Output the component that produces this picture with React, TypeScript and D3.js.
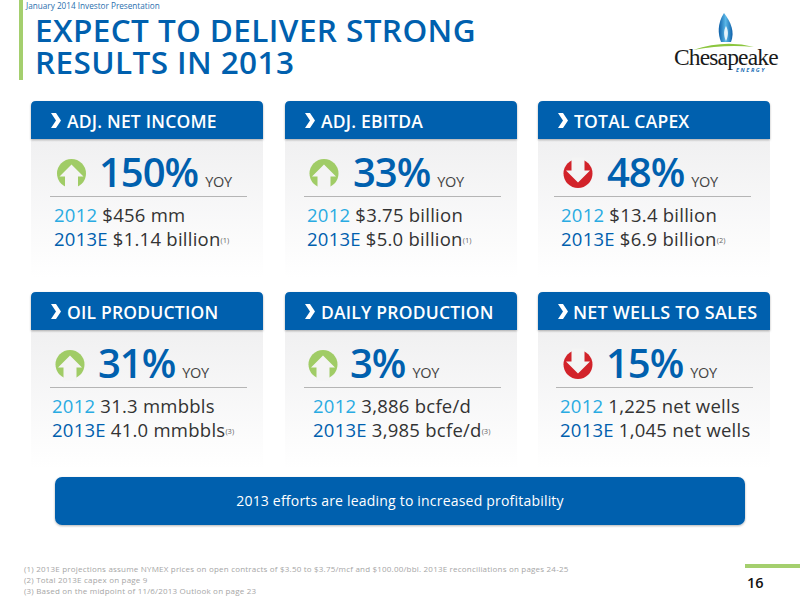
import React, { useEffect, useRef } from 'react';
import * as d3 from 'd3';

const titles = ['ADJ. NET INCOME', 'ADJ. EBITDA', 'TOTAL CAPEX', 'OIL PRODUCTION', 'DAILY PRODUCTION', 'NET WELLS TO SALES'];
const changes = [150, 33, 48, 31, 3, 15];
const directions = ['up', 'up', 'down', 'up', 'up', 'down'];
const values2012 = ['$456 mm', '$3.75 billion', '$13.4 billion', '31.3 mmbbls', '3,886 bcfe/d', '1,225 net wells'];
const values2013 = ['$1.14 billion', '$5.0 billion', '$6.9 billion', '41.0 mmbbls', '3,985 bcfe/d', '1,045 net wells'];
const noteRefs = ['(1)', '(1)', '(2)', '(3)', '(3)', ''];
const footnotes = [
  '(1)  2013E projections assume NYMEX prices on open contracts of $3.50 to $3.75/mcf and $100.00/bbl. 2013E reconciliations on pages 24-25',
  '(2)  Total 2013E capex on page 9',
  '(3)  Based on the midpoint of 11/6/2013 Outlook on page 23',
];

// offsets inside each card, these differ a bit on the slide
const iconX = [40.5, 39, 40, 39, 38, 40];
const bigX = [68, 68, 69, 67, 65, 68];
const lineX = [23, 22, 23, 21, 28, 22];
const ruleX = [19, 19, 16, 19, 19, 18];

const BLUE = '#0060ae';
const FONT = '"Open Sans", "Noto Sans", sans-serif';

const App: React.FC = () => {
  const ref = useRef<SVGSVGElement>(null);

  useEffect(() => {
    if (!ref.current) return;
    const svg = d3.select(ref.current);
    svg.selectAll('*').remove();

    const defs = svg.append('defs');
    const grad = defs.append('linearGradient').attr('id', 'card-bg').attr('x1', 0).attr('x2', 0).attr('y1', 0).attr('y2', 1);
    grad.append('stop').attr('offset', '0%').attr('stop-color', '#f0f0f1');
    grad.append('stop').attr('offset', '100%').attr('stop-color', '#ffffff');
    const shadow = defs.append('filter').attr('id', 'soft').attr('x', '-5%').attr('y', '-10%').attr('width', '110%').attr('height', '125%');
    shadow.append('feDropShadow').attr('dx', 0).attr('dy', 1).attr('stdDeviation', 1).attr('flood-color', '#000').attr('flood-opacity', 0.3);
    const flame = defs.append('linearGradient').attr('id', 'flame').attr('x1', 0).attr('x2', 1).attr('y1', 0).attr('y2', 0);
    flame.append('stop').attr('offset', '0%').attr('stop-color', '#0d5fa8');
    flame.append('stop').attr('offset', '50%').attr('stop-color', '#5bb8e8');
    flame.append('stop').attr('offset', '100%').attr('stop-color', '#0d5fa8');

    svg.append('rect').attr('width', 800).attr('height', 600).attr('fill', '#fff');

    // header
    svg.append('rect').attr('x', 19).attr('y', 0).attr('width', 4).attr('height', 80).attr('fill', '#a4cf6e');
    svg.append('text').attr('x', 26).attr('y', 8.5).attr('font-size', 8.2).attr('fill', '#2a6fae').attr('font-family', FONT).text('January 2014 Investor Presentation');
    ['EXPECT TO DELIVER STRONG', 'RESULTS IN 2013'].forEach((t, i) => {
      svg.append('text').attr('x', 35).attr('y', 42 + i * 32).attr('font-size', 31.5).attr('font-weight', 600).attr('letter-spacing', 0.4)
        .attr('fill', BLUE).attr('font-family', FONT).text(t);
    });

    // logo
    const logo = svg.append('g');
    logo.append('path').attr('d', 'M724 13 C717 24 718 34 721 42 L731 42 C735 32 731 22 724 13 Z').attr('fill', 'url(#flame)');
    logo.append('path').attr('d', 'M726 26 C723 31 724 37 726 41 C728 37 729 31 726 26 Z').attr('fill', '#e6f4fb');
    logo.append('path').attr('d', 'M693 50 Q725 39 754 47 Q725 44 693 50 Z').attr('fill', '#8cc63f');
    logo.append('text').attr('x', 674).attr('y', 65).attr('font-size', 23.5).attr('letter-spacing', -0.85)
      .attr('font-family', '"Liberation Serif", serif').attr('fill', '#1a1a1a').text('Chesapeake');
    logo.append('text').attr('x', 736).attr('y', 72).attr('font-size', 5.5).attr('font-weight', 700).attr('font-style', 'italic').attr('letter-spacing', 1.6)
      .attr('font-family', FONT).attr('fill', '#1b6fb5').text('ENERGY');

    // card grid
    const colX = d3.scaleOrdinal<number, number>().domain([0, 1, 2]).range([31, 285, 538]);
    const rowY = d3.scaleOrdinal<number, number>().domain([0, 1]).range([101, 292]);
    const cardW = 232;

    titles.forEach((title, i) => {
      const x = colX(i % 3);
      const y = rowY(Math.floor(i / 3));
      const g = svg.append('g').attr('transform', `translate(${x},${y})`);

      g.append('rect').attr('x', 0).attr('y', 37).attr('width', cardW).attr('height', 140).attr('fill', 'url(#card-bg)');
      g.append('path')
        .attr('d', `M0 38 V5 Q0 0 5 0 H${cardW - 5} Q${cardW} 0 ${cardW} 5 V38 Z`)
        .attr('fill', BLUE).attr('filter', 'url(#soft)');
      g.append('path').attr('d', 'M20 12 L25 12 L30 19.5 L25 27 L20 27 L25 19.5 Z').attr('fill', '#fff');
      g.append('text').attr('x', i === 5 ? 35 : 36).attr('y', 26.5).attr('font-size', i === 5 ? 18 : 17.5).attr('font-weight', 600)
        .attr('letter-spacing', 0.2).attr('fill', '#fff').attr('font-family', FONT).text(title);

      // arrow badge
      const cx = iconX[i];
      const up = directions[i] === 'up';
      const badge = g.append('g').attr('transform', `translate(${cx},72.5)${up ? '' : ' rotate(180)'}`);
      badge.append('circle').attr('r', 14.5).attr('fill', up ? '#a0cc66' : '#d2232a');
      badge.append('path').attr('d', 'M0 -9 L12 3 L6.5 3 L6.5 16 L-6.5 16 L-6.5 3 L-12 3 Z').attr('fill', '#f4f4f4');

      // big number
      const big = g.append('text').attr('x', bigX[i]).attr('y', 86).attr('font-family', FONT).attr('fill', BLUE);
      big.append('tspan').attr('font-size', 40).attr('font-weight', 600).attr('letter-spacing', -1).text(`${changes[i]}%`);
      big.append('tspan').attr('dx', 7).attr('font-size', 14.5).attr('letter-spacing', -0.3).attr('fill', '#444').text('YOY');

      g.append('line').attr('x1', ruleX[i]).attr('x2', ruleX[i] + 197).attr('y1', 95.5).attr('y2', 95.5).attr('stroke', '#b5b5b5').attr('stroke-width', 1);

      const l1 = g.append('text').attr('x', lineX[i]).attr('y', 121).attr('font-size', 18.5).attr('letter-spacing', 0.25).attr('font-family', FONT).attr('fill', '#333');
      l1.append('tspan').attr('fill', '#29abe2').text('2012');
      l1.append('tspan').attr('dx', 5).text(values2012[i]);

      const l2 = g.append('text').attr('x', lineX[i]).attr('y', 145).attr('font-size', 18.5).attr('letter-spacing', 0.25).attr('font-family', FONT).attr('fill', '#333');
      l2.append('tspan').attr('fill', BLUE).text('2013E');
      l2.append('tspan').attr('dx', 5).text(values2013[i]);
      if (noteRefs[i]) l2.append('tspan').attr('font-size', 7.5).attr('letter-spacing', 0).attr('dy', -3).attr('fill', '#666').text(noteRefs[i]);
    });

    // banner
    svg.append('rect').attr('x', 55).attr('y', 477).attr('width', 690).attr('height', 48).attr('rx', 7)
      .attr('fill', BLUE).attr('filter', 'url(#soft)');
    svg.append('text').attr('x', 400).attr('y', 506).attr('text-anchor', 'middle').attr('font-size', 14).attr('font-weight', 500).attr('letter-spacing', 0.2)
      .attr('fill', '#fff').attr('font-family', FONT).text('2013 efforts are leading to increased profitability');

    // footer
    footnotes.forEach((t, i) => {
      svg.append('text').attr('x', 24).attr('y', 571.5 + i * 11).attr('font-size', 8).attr('letter-spacing', 0.2).attr('fill', '#a6a6a6').attr('font-family', FONT).text(t);
    });
    svg.append('rect').attr('x', 745).attr('y', 564).attr('width', 55).attr('height', 4).attr('fill', '#a4cf6e');
    svg.append('text').attr('x', 747).attr('y', 588).attr('font-size', 14.5).attr('font-weight', 600).attr('fill', '#111').attr('font-family', FONT).text('16');
  }, []);

  return <svg ref={ref} width={800} height={600} style={{ position: 'absolute', left: 0, top: 0 }} />;
};

export default App;
